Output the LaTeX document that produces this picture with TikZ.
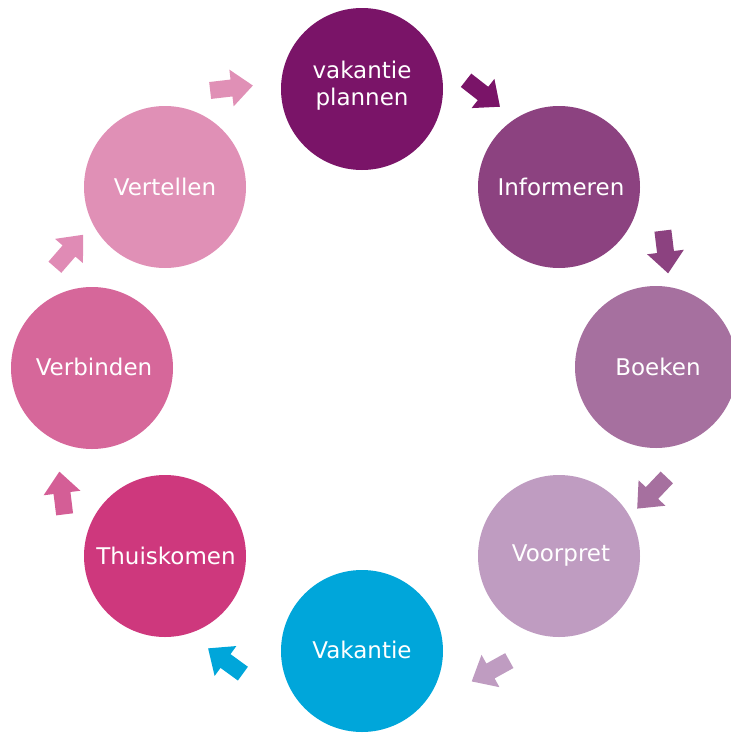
\documentclass[tikz,border=0pt]{standalone}
\usepackage{fontspec}
\setmainfont{DejaVu Sans}
\definecolor{cPlan}{HTML}{7A1468}
\definecolor{cInfo}{HTML}{8C4280}
\definecolor{cBoek}{HTML}{A6709F}
\definecolor{cVoor}{HTML}{BF9CC1}
\definecolor{cVak}{HTML}{00A6DA}
\definecolor{cThuis}{HTML}{CE387D}
\definecolor{cVerb}{HTML}{D6679A}
\definecolor{cVert}{HTML}{E090B6}
\definecolor{aSeven}{HTML}{D45E96}
\definecolor{aEight}{HTML}{E08BB5}
\tikzset{
  stage/.style={circle, minimum size=162pt, inner sep=0pt, text=white,
    font=\fontsize{23}{27}\selectfont, align=center},
  blockarrow/.pic={\fill (-21.5,-8.5) -- (0,-8.5) -- (0,-18.5) -- (21.5,0)
     -- (0,18.5) -- (0,8.5) -- (-21.5,8.5) -- cycle;}
}
\begin{document}
\begin{tikzpicture}[x=1pt,y=-1pt]
\useasboundingbox (0,0) rectangle (731,734);
\clip (0,0) rectangle (731,734);
\node[stage, fill=cPlan]  (plan)  at (362,89)  {};
\node[text=white, font=\fontsize{23}{27}\selectfont, align=center] (plantext) at (362,86) {vakantie\\plannen};
\node[stage, fill=cInfo]  (info)  at (559,187) {};
\node[text=white, font=\fontsize{23}{27}\selectfont] (infotext) at (561,187) {Informeren};
\node[stage, fill=cBoek]  (boek)  at (656,367) {};
\node[text=white, font=\fontsize{23}{27}\selectfont] (boektext) at (658,367) {Boeken};
\node[stage, fill=cVoor]  (voor)  at (559,556) {};
\node[text=white, font=\fontsize{23}{27}\selectfont] (voortext) at (561,556) {Voorpret};
\node[stage, fill=cVak]   (vak)   at (362,651) {};
\node[text=white, font=\fontsize{23}{27}\selectfont] (vaktext) at (362,650) {Vakantie};
\node[stage, fill=cThuis] (thuis) at (165,556) {};
\node[text=white, font=\fontsize{23}{27}\selectfont] (thuistext) at (166,556) {Thuiskomen};
\node[stage, fill=cVerb]  (verb)  at (92,368)  {};
\node[text=white, font=\fontsize{23}{27}\selectfont] (verbtext) at (94,367) {Verbinden};
\node[stage, fill=cVert]  (vert)  at (165,187) {};
\node[text=white, font=\fontsize{23}{27}\selectfont] (verttext) at (165,187) {Vertellen};
% arrows (rotation in visual degrees, counterclockwise)
\pic[fill=cVert, rotate=6.6]   at (231.5,88)  {blockarrow};
\pic[fill=cPlan, rotate=-38]   at (483,93.5)  {blockarrow};
\pic[fill=cInfo, rotate=-83]   at (665.5,252) {blockarrow};
\pic[fill=cBoek, rotate=-133.5] at (652,493)  {blockarrow};
\pic[fill=cVoor, rotate=-151]  at (490.5,671) {blockarrow};
\pic[fill=cVak,  rotate=144]   at (225.5,661) {blockarrow};
\pic[fill=aSeven, rotate=97]   at (62,493)    {blockarrow};
\pic[fill=aEight, rotate=49]   at (69,251)    {blockarrow};
\end{tikzpicture}
\end{document}
